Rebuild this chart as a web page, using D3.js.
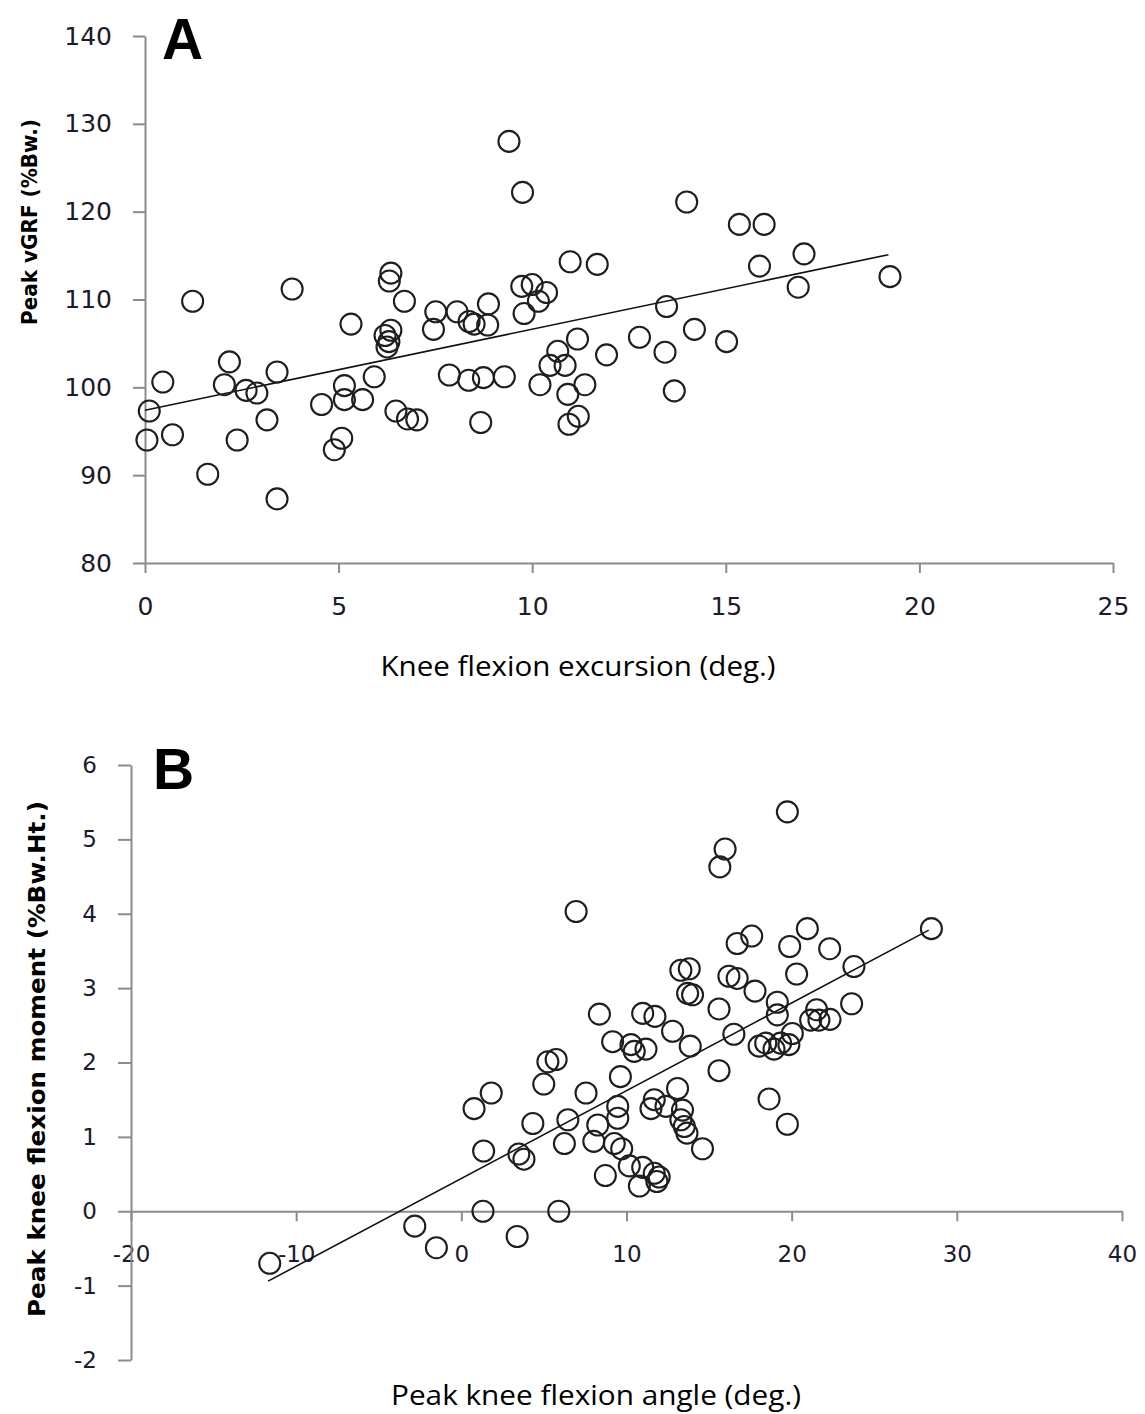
<!DOCTYPE html>
<html>
<head>
<meta charset="utf-8">
<script src="https://cdn.jsdelivr.net/npm/d3@7"></script>
<style>
  body { margin: 0; background: #fff; }
  .tick text { fill: #1c1a2c; font-family: "DejaVu Sans", Verdana, sans-serif; }
  .domain, .tick line { stroke: #8c8c8c; stroke-width: 2; }
</style>
</head>
<body>
<div class="wrapper"></div>
<script>
// ---- panel A : knee flexion excursion vs peak vGRF ----
var excursionA = [0.05,0.11,0.46,0.71,1.23,1.62,2.05,2.18,2.38,2.61,2.89,3.15,3.41,3.41,3.8,4.56,4.89,5.08,5.15,5.15,5.32,5.62,5.92,6.2,6.35,6.3,6.25,6.31,6.35,6.48,6.7,6.78,7.02,7.45,7.51,7.86,8.06,8.36,8.37,8.5,8.67,8.74,8.85,8.87,9.28,9.4,9.75,9.73,9.79,10.0,10.16,10.37,10.2,10.46,10.66,10.85,10.92,10.95,10.98,11.17,11.19,11.36,11.68,11.92,12.77,13.43,13.47,13.67,13.99,14.19,15.02,15.35,15.87,15.99,16.87,17.02,19.24];
var vgrfA = [94.0,97.3,100.6,94.6,109.8,90.1,100.3,102.9,94.0,99.65,99.35,96.3,101.75,87.3,111.2,98.05,92.9,94.2,100.2,98.6,107.2,98.6,101.2,105.9,106.5,105.2,104.6,112.1,113.0,97.3,109.8,96.4,96.3,106.6,108.6,101.4,108.6,100.8,107.5,107.2,96.0,101.1,107.1,109.5,101.2,128,122.2,111.5,108.4,111.7,109.8,110.8,100.3,102.5,104.1,102.5,99.2,95.8,114.3,105.5,96.7,100.3,114.0,103.7,105.7,104.0,109.2,99.6,121.1,106.6,105.2,118.55,113.8,118.55,111.4,115.2,112.6];
var trendAx = [0, 19.2];
var trendAy = [97.4, 115.1];
var xTicksA = [0, 5, 10, 15, 20, 25];
var yTicksA = [80, 90, 100, 110, 120, 130, 140];

// ---- panel B : peak knee flexion angle vs moment ----
var angleB = [-11.6,-2.82,-1.51,0.77,1.81,1.35,1.31,3.38,3.48,3.79,4.33,4.99,5.24,5.74,5.9,6.24,6.45,6.95,7.55,8.02,8.26,8.36,8.72,9.16,9.26,9.47,9.47,9.63,9.71,10.17,10.27,10.47,10.78,10.98,10.98,11.18,11.48,11.68,11.72,11.68,11.98,11.84,12.39,12.79,13.09,13.29,13.8,13.7,14.0,13.39,13.29,13.5,13.66,13.86,14.6,15.6,15.6,16.2,16.7,16.7,17.58,17.78,16.5,19.74,15.97,15.65,28.46,20.95,19.88,22.3,20.3,23.77,19.13,19.13,23.63,21.51,22.32,21.15,21.65,18.03,18.43,18.93,19.33,19.83,20.04,18.63,19.74];
var momentB = [-0.70,-0.20,-0.49,1.38,1.59,0.81,0.0,-0.34,0.77,0.70,1.18,1.71,2.01,2.04,0.0,0.91,1.23,4.03,1.59,0.94,1.16,2.65,0.48,2.28,0.91,1.41,1.25,1.81,0.84,0.61,2.24,2.15,0.34,2.66,0.59,2.18,1.38,1.50,2.62,0.51,0.46,0.40,1.41,2.42,1.65,3.24,3.26,2.93,2.91,1.36,1.23,1.14,1.05,2.22,0.84,2.72,1.89,3.16,3.13,3.6,3.70,2.96,2.38,5.37,4.87,4.63,3.80,3.80,3.56,3.53,3.19,3.29,2.81,2.64,2.79,2.71,2.58,2.57,2.57,2.22,2.26,2.18,2.26,2.24,2.39,1.51,1.17];
var trendBx = [-11.7, 28.3];
var trendBy = [-0.94, 3.78];
var xTicksB = [-20, -10, 0, 10, 20, 30, 40];
var yTicksB = [-2, -1, 0, 1, 2, 3, 4, 5, 6];

var width = 1145, height = 1414;
var plain = d => String(d);   // keep the ascii hyphen for negatives

var svg = d3.select(".wrapper").append("svg")
  .attr("width", width)
  .attr("height", height);

/*-------------------------------- PANEL A --------------------------------*/
var xA = d3.scaleLinear().domain([0, 25]).range([145, 1113]);
var yA = d3.scaleLinear().domain([80, 140]).range([563, 36]);

svg.append("g")
  .attr("transform", "translate(0," + yA(80) + ")")
  .call(d3.axisBottom(xA).tickValues(xTicksA).tickFormat(plain).tickSize(10).tickSizeOuter(0).tickPadding(24))
  .selectAll("text").style("font-size", "25px");

svg.append("g")
  .attr("transform", "translate(" + xA(0) + ",0)")
  .call(d3.axisLeft(yA).tickValues(yTicksA).tickFormat(plain).tickSize(12).tickSizeOuter(0).tickPadding(21))
  .selectAll("text").style("font-size", "25px");

var lineA = d3.line().x(d => xA(d[0])).y(d => yA(d[1]));
svg.append("path")
  .datum(d3.zip(trendAx, trendAy))
  .attr("d", lineA)
  .style("fill", "none")
  .style("stroke", "#111")
  .style("stroke-width", 1.6);

svg.append("g").selectAll("circle")
  .data(d3.zip(excursionA, vgrfA))
  .join("circle")
  .attr("cx", d => xA(d[0]))
  .attr("cy", d => yA(d[1]))
  .attr("r", 10.5)
  .style("fill", "none")
  .style("stroke", "#1e1e1e")
  .style("stroke-width", 2.1);

svg.append("text")
  .attr("x", 162).attr("y", 59)
  .style("font-family", "'Liberation Sans', Arial, sans-serif")
  .style("font-weight", "bold")
  .style("font-size", "57px")
  .text("A");

svg.append("text")
  .attr("x", 578).attr("y", 676)
  .attr("text-anchor", "middle")
  .attr("textLength", 395)
  .attr("lengthAdjust", "spacingAndGlyphs")
  .style("font-family", "'Open Sans', Lato, sans-serif")
  .style("font-size", "27px")
  .text("Knee flexion excursion (deg.)");

svg.append("text")
  .attr("transform", "translate(37,222) rotate(-90)")
  .attr("text-anchor", "middle")
  .attr("textLength", 206)
  .attr("lengthAdjust", "spacingAndGlyphs")
  .style("font-family", "'DejaVu Sans', Verdana, sans-serif")
  .style("font-weight", "bold")
  .style("font-size", "22px")
  .text("Peak vGRF (%Bw.)");

/*-------------------------------- PANEL B --------------------------------*/
var xB = d3.scaleLinear().domain([-20, 40]).range([131, 1122]);
var yB = d3.scaleLinear().domain([-2, 6]).range([1360, 765]);

svg.append("g")
  .attr("transform", "translate(0," + yB(0) + ")")
  .call(d3.axisBottom(xB).tickValues(xTicksB).tickFormat(plain).tickSize(10).tickSizeOuter(0).tickPadding(24))
  .selectAll("text").style("font-size", "23px");

svg.append("g")
  .attr("transform", "translate(" + xB(-20) + ",0)")
  .call(d3.axisLeft(yB).tickValues(yTicksB).tickFormat(plain).tickSize(13).tickSizeOuter(0).tickPadding(21))
  .selectAll("text").style("font-size", "23px");

var lineB = d3.line().x(d => xB(d[0])).y(d => yB(d[1]));
svg.append("path")
  .datum(d3.zip(trendBx, trendBy))
  .attr("d", lineB)
  .style("fill", "none")
  .style("stroke", "#111")
  .style("stroke-width", 1.6);

svg.append("g").selectAll("circle")
  .data(d3.zip(angleB, momentB))
  .join("circle")
  .attr("cx", d => xB(d[0]))
  .attr("cy", d => yB(d[1]))
  .attr("r", 10.5)
  .style("fill", "none")
  .style("stroke", "#1e1e1e")
  .style("stroke-width", 2.1);

svg.append("text")
  .attr("x", 153).attr("y", 789)
  .style("font-family", "'Liberation Sans', Arial, sans-serif")
  .style("font-weight", "bold")
  .style("font-size", "57px")
  .text("B");

svg.append("text")
  .attr("x", 596).attr("y", 1405)
  .attr("text-anchor", "middle")
  .attr("textLength", 410)
  .attr("lengthAdjust", "spacingAndGlyphs")
  .style("font-family", "'Open Sans', Lato, sans-serif")
  .style("font-size", "27px")
  .text("Peak knee flexion angle (deg.)");

svg.append("text")
  .attr("transform", "translate(45,1059) rotate(-90)")
  .attr("text-anchor", "middle")
  .attr("textLength", 516)
  .attr("lengthAdjust", "spacingAndGlyphs")
  .style("font-family", "'DejaVu Sans', Verdana, sans-serif")
  .style("font-weight", "bold")
  .style("font-size", "23px")
  .text("Peak knee flexion moment (%Bw.Ht.)");
</script>
</body>
</html>
